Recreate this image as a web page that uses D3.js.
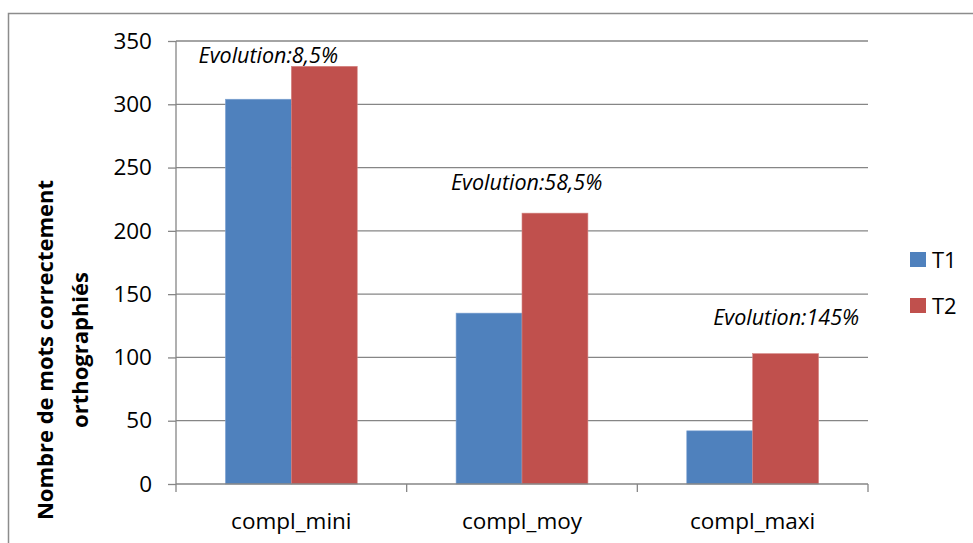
<!DOCTYPE html>
<html>
<head>
<meta charset="utf-8">
<script src="https://cdn.jsdelivr.net/npm/d3@7"></script>
<style>
  body { margin: 0; background: #fff; }
  svg { display: block; font-family: "Open Sans", sans-serif; }
</style>
</head>
<body>
<svg id="chart"></svg>
<script>
const categories = ['compl_mini', 'compl_moy', 'compl_maxi'];
const seriesNames = ['T1', 'T2'];
const t1Values = [304, 135, 42];
const t2Values = [330, 214, 103];
const yTicks = [0, 50, 100, 150, 200, 250, 300, 350];
const evolutionLabels = ['Evolution:8,5%', 'Evolution:58,5%', 'Evolution:145%'];
// where each note sits: offset inside the category band (0..1) and the value height
const evolutionPos = [0.40, 0.52, 0.645];
const evolutionY = [333, 232, 126];

const width = 973;
const height = 543;
const margin = { top: 41, right: 105, bottom: 59, left: 176 };
const colors = ['#4F81BD', '#C0504D'];
const font = '"Open Sans", sans-serif';

const svg = d3.select('#chart')
    .attr('width', width)
    .attr('height', height);

// outer chart frame (right and bottom edges are off the picture)
svg.append('rect')
    .attr('x', 8.5).attr('y', 13.5)
    .attr('width', width + 20).attr('height', height + 20)
    .attr('fill', 'none')
    .attr('stroke', '#8c8c8c')
    .attr('stroke-width', 1.5);

const x = d3.scaleBand()
    .domain(categories)
    .range([margin.left, width - margin.right]);

const inner = d3.scaleBand()
    .domain(seriesNames)
    .range([0, x.bandwidth()])
    .paddingInner(0)
    .paddingOuter(0.75);

const y = d3.scaleLinear()
    .domain([0, 350])
    .range([height - margin.bottom, margin.top]);

// gridlines
svg.append('g')
    .selectAll('line')
    .data(yTicks.filter(d => d > 0))
    .join('line')
    .attr('x1', margin.left).attr('x2', width - margin.right)
    .attr('y1', d => y(d)).attr('y2', d => y(d))
    .attr('stroke', '#868686')
    .attr('stroke-width', 1.3);

const table = categories.map((c, i) => ({ cat: c, values: [t1Values[i], t2Values[i]] }));

const groups = svg.append('g')
    .selectAll('g')
    .data(table)
    .join('g')
    .attr('transform', d => `translate(${x(d.cat)},0)`);

groups.selectAll('rect')
    .data(d => d.values.map((v, i) => ({ name: seriesNames[i], value: v, i })))
    .join('rect')
    .attr('x', d => inner(d.name))
    .attr('width', inner.bandwidth())
    .attr('y', d => y(d.value))
    .attr('height', d => y(0) - y(d.value))
    .attr('fill', d => colors[d.i])
    .attr('stroke', d => d.i === 0 ? '#7ea3d2' : '#d48582')
    .attr('stroke-width', 0.6);

// y axis
const yAxis = svg.append('g')
    .attr('transform', `translate(${margin.left},0)`)
    .call(d3.axisLeft(y).tickValues(yTicks).tickSize(8).tickPadding(16));

// x axis
const xAxis = svg.append('g')
    .attr('transform', `translate(0,${y(0)})`)
    .call(d3.axisBottom(x).tickSize(0).tickPadding(29));

// category boundary ticks
svg.append('g')
    .selectAll('line')
    .data(categories.concat(['end']))
    .join('line')
    .attr('x1', (d, i) => margin.left + i * x.step())
    .attr('x2', (d, i) => margin.left + i * x.step())
    .attr('y1', y(0)).attr('y2', y(0) + 8)
    .attr('stroke', '#868686')
    .attr('stroke-width', 1.3);

[yAxis, xAxis].forEach(a => {
    a.select('.domain').attr('stroke', '#868686').attr('stroke-width', 1.3);
    a.selectAll('.tick line').attr('stroke', '#868686').attr('stroke-width', 1.3);
    a.selectAll('.tick text')
        .attr('font-size', 22.5)
        .attr('font-family', font)
        .attr('fill', '#000');
});
yAxis.select('.domain').attr('d', `M0,${y(0)}V${y(350)}`);
xAxis.select('.domain').attr('d', `M${margin.left},0H${width - margin.right}`);

// evolution notes
svg.append('g')
    .selectAll('text')
    .data(evolutionLabels)
    .join('text')
    .attr('x', (d, i) => x(categories[i]) + evolutionPos[i] * x.bandwidth())
    .attr('y', (d, i) => y(evolutionY[i]))
    .attr('text-anchor', 'middle')
    .attr('font-style', 'italic')
    .attr('font-size', 21.5)
    .text(d => d);

// y title
const yTitle = svg.append('text')
    .attr('transform', 'translate(62,350) rotate(-90)')
    .attr('text-anchor', 'middle')
    .attr('font-weight', 'bold')
    .attr('font-size', 22);
yTitle.append('tspan').attr('x', 0).attr('y', -9).text('Nombre de mots correctement');
yTitle.append('tspan').attr('x', 0).attr('y', 26).text('orthographiés');

// legend
const legend = svg.append('g')
    .selectAll('g')
    .data(seriesNames)
    .join('g')
    .attr('transform', (d, i) => `translate(910,${252 + i * 46})`);
legend.append('rect')
    .attr('width', 16).attr('height', 15)
    .attr('fill', (d, i) => colors[i]);
legend.append('text')
    .attr('x', 22).attr('y', 16)
    .attr('font-size', 22)
    .text(d => d);
</script>
</body>
</html>
